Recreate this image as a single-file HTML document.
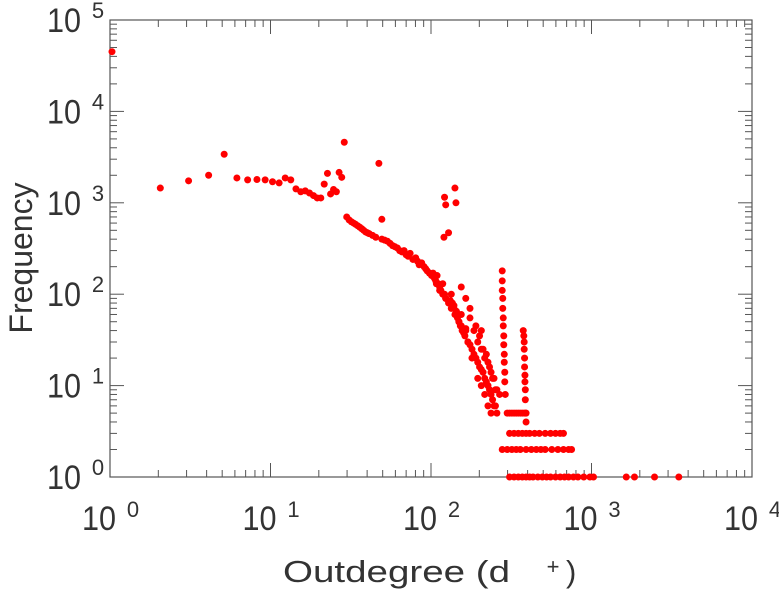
<!DOCTYPE html>
<html><head><meta charset="utf-8">
<style>
html,body{margin:0;padding:0;background:#fff;}
svg{display:block;font-family:"Liberation Sans",sans-serif;}
</style></head>
<body>
<svg id="chart" width="779" height="600"></svg>
<script>
// Data: degree values and frequency values
const degrees = [1,2,3,4,5,6,7,8,9,10,11,12,13,14,15,16,17,18,19,20,21,22,23,24,25,26,27,28,
 29,30,31,32,33,34,35,36,37,38,39,40,42,44,46,48,48,50,52,54,56,58,60,62,64,66,68,70,72,75,78,80,82,85,88,90,92,95,98,
 100,102,104,106,108,110,112,115,118,120,117,137,118,139,120,125,128,130,132,135,137,140,142,145,148,150,152,155,158,160,
 105,110,115,120,125,130,135,140,145,150,155,160,165,170,175,180,185,190,195,200,205,210,215,220,225,230,235,240,245,250,
 170,180,190,200,210,220,230,240,250,260,190,200,210,220,230,
 150,160,170,185,195,205,215,225,140,165,175,200,235,245,
 270,270,270,272,272,274,274,276,276,278,278,280,280,282,
 365,368,370,370,372,372,374,374,376,376,378,380,
 290,300,310,320,330,340,350,360,370,380,
 300,320,340,360,380,400,430,460,500,540,580,620,650,
 270,290,310,330,350,380,410,440,470,500,550,600,650,700,730,
 300,320,340,360,380,400,420,450,480,510,540,580,620,660,700,750,800,870,950,1000,1600,1800,2400,3400];
const frequencies = [45000,1450,1740,2000,3400,1870,1780,1800,1780,1700,1650,1870,1780,1420,1320,1350,1280,1200,1130,1130,1600,2100,1250,1400,1320,2150,1900,4600,
 700,650,620,600,580,560,540,520,500,480,470,460,440,420,2700,400,660,390,380,360,340,330,320,300,290,300,270,260,280,240,250,230,210,220,200,190,180,170,160,
 170,150,140,160,130,120,110,130,100,90,420,1450,1150,1000,950,470,85,100,80,70,60,65,55,50,45,60,40,38,35,40,
 130,110,100,90,80,70,75,60,50,45,40,42,30,28,25,22,20,18,16,15,14,12,11,10,9,8,7,6,6,5,
 55,40,30,25,20,18,14,12,9,8,12,10,8,6,5,
 120,90,70,45,35,25,22,16,60,30,20,40,12,9,
 180,140,110,90,70,55,45,35,28,22,18,14,11,8,
 40,35,30,25,20,16,13,11,9,7,5,4,
 5,5,5,5,5,5,5,5,5,5,
 3,3,3,3,3,3,3,3,3,3,3,3,3,
 2,2,2,2,2,2,2,2,2,2,2,2,2,2,2,
 1,1,1,1,1,1,1,1,1,1,1,1,1,1,1,1,1,1,1,1,1,1,1,1];
const xTickExps = [0,1,2,3,4];
const yTickExps = [0,1,2,3,4,5];

const NS="http://www.w3.org/2000/svg";
const svg=document.getElementById('chart');
const L=110,R=752,T=20,B=477;
const xs=v=>L+Math.log10(v)/4*(R-L);
const ys=v=>B-Math.log10(v)/5*(B-T);
function mk(t,a,p){const e=document.createElementNS(NS,t);for(const k in a)e.setAttribute(k,a[k]);(p||svg).appendChild(e);return e;}

const frame=mk('rect',{x:L,y:T,width:R-L,height:B-T,fill:'none',stroke:'#555','stroke-width':1.2});



const tg=mk('g',{stroke:'#555','stroke-width':1});


for(let d=0;d<4;d++){for(let m=1;m<10;m++){const x=xs(Math.pow(10,d)*m);const len=m===1?14:7;
 mk('line',{x1:x,y1:B,x2:x,y2:B-len},tg);mk('line',{x1:x,y1:T,x2:x,y2:T+len},tg);}}
for(let d=0;d<5;d++){for(let m=1;m<10;m++){const y=ys(Math.pow(10,d)*m);const len=m===1?14:7;
 mk('line',{x1:L,y1:y,x2:L+len,y2:y},tg);mk('line',{x1:R,y1:y,x2:R-len,y2:y},tg);}}

xTickExps.forEach(e=>{const x=xs(Math.pow(10,e));
 const t=mk('text',{x:x-28,y:530,'font-size':34,fill:'#333',textLength:34,lengthAdjust:'spacingAndGlyphs'});
 
 
 t.textContent='10';
 const s=mk('text',{x:x+23,y:517,'font-size':22,fill:'#333','text-anchor':'middle'});
 
 
 s.textContent=String(e);});
yTickExps.forEach(e=>{const y=ys(Math.pow(10,e));
 const t=mk('text',{x:47,y:y+12,'font-size':34,fill:'#333',textLength:34,lengthAdjust:'spacingAndGlyphs'});
 
 
 t.textContent='10';
 const s=mk('text',{x:98,y:y-2,'font-size':22,fill:'#333','text-anchor':'middle'});
 
 
 s.textContent=String(e);});

const xt=mk('text',{x:283,y:582,'font-size':31,fill:'#333',textLength:227,lengthAdjust:'spacingAndGlyphs'});


xt.textContent='Outdegree (d';
const xp=mk('text',{x:553,y:574,'font-size':22,fill:'#333','text-anchor':'middle'});


xp.textContent='+';
const xc=mk('text',{x:566,y:582,'font-size':31,fill:'#333'});


xc.textContent=')';
const yt=mk('text',{x:0,y:0,'font-size':32,fill:'#333','text-anchor':'middle',transform:'translate(32,258) rotate(-90)'});


yt.textContent='Frequency';

const pg=mk('g',{fill:'#f00'});


degrees.forEach((d,i)=>{const c=mk('circle',{cx:xs(d)+2,cy:ys(frequencies[i]),r:3.5},pg);
 
 });
</script>
</body></html>
